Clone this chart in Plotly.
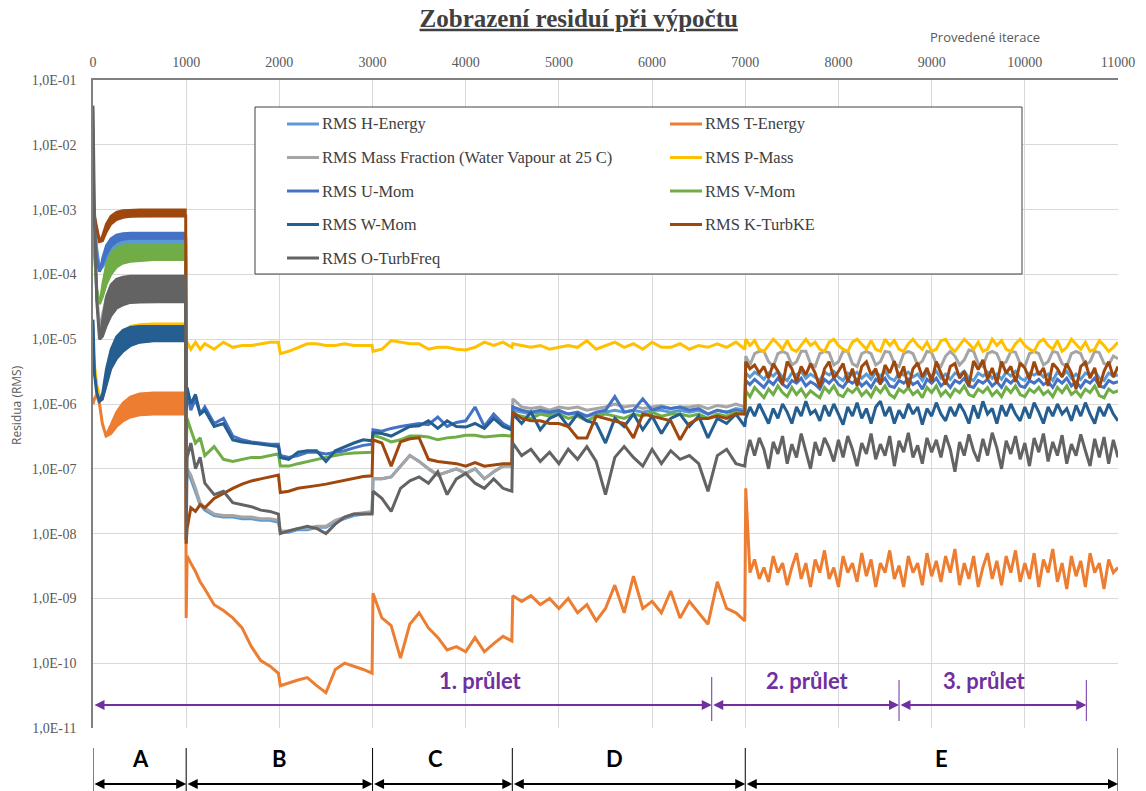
import plotly.graph_objects as go

# ---------------- categories / ticks ----------------
series_names = ["RMS H-Energy", "RMS T-Energy", "RMS Mass Fraction (Water Vapour at 25 C)", "RMS P-Mass",
                "RMS U-Mom", "RMS V-Mom", "RMS W-Mom", "RMS K-TurbKE", "RMS O-TurbFreq"]
series_colors = ["#5B9BD5", "#ED7D31", "#A5A5A5", "#FFC000", "#4472C4", "#70AD47", "#255E91", "#9E480E", "#636363"]

y_tick_vals = [1e-1, 1e-2, 1e-3, 1e-4, 1e-5, 1e-6, 1e-7, 1e-8, 1e-9, 1e-10, 1e-11]
y_tick_text = ["1,0E-01", "1,0E-02", "1,0E-03", "1,0E-04", "1,0E-05", "1,0E-06",
               "1,0E-07", "1,0E-08", "1,0E-09", "1,0E-10", "1,0E-11"]
x_tick_vals = [0, 1000, 2000, 3000, 4000, 5000, 6000, 7000, 8000, 9000, 10000, 11000]

section_bounds = [0, 1000, 3000, 4500, 7000, 11000]
section_labels = ["A", "B", "C", "D", "E"]
section_label_iter = [505, 2000, 3680, 5600, 9110]
pass_bounds = [0, 6640, 8650, 10660]
pass_labels = ["1. průlet", "2. průlet", "3. průlet"]
pass_label_iter = [4160, 7670, 9570]

# ---------------- iteration grids per phase ----------------
iter_a = [0, 15, 40, 70, 100, 140, 190, 250, 320, 400, 500, 650, 800, 995]
iter_b = [1000, 1010, 1050, 1100, 1150, 1200, 1300, 1400, 1500, 1600, 1700, 1800, 1900, 1990,
          2010, 2100, 2200, 2300, 2400, 2500, 2600, 2700, 2800, 2900, 2995]
iter_c = [3005, 3100, 3200, 3300, 3400, 3500, 3600, 3700, 3800, 3900, 4000, 4100, 4200, 4300, 4400, 4495]
iter_d = [4505, 4600, 4700, 4800, 4900, 5000, 5100, 5200, 5300, 5400, 5500, 5600, 5700, 5800, 5900,
          6000, 6100, 6200, 6300, 6400, 6500, 6600, 6700, 6800, 6900, 6995]
iter_e = [7005] + list(range(7050, 11001, 50))

# ---------------- RMS H-Energy ----------------
h_energy_a_lo = [2e-3, 8e-4, 2.5e-4, 1.2e-4, 1.3e-4, 1.6e-4, 2e-4, 2.4e-4, 2.6e-4, 2.7e-4, 2.8e-4, 2.8e-4, 2.8e-4, 2.8e-4]
h_energy_a_hi = [2e-3, 8e-4, 2.5e-4, 1.2e-4, 1.6e-4, 2.2e-4, 2.8e-4, 3.1e-4, 3.3e-4, 3.4e-4, 3.4e-4, 3.4e-4, 3.4e-4, 3.4e-4]
h_energy_b = [8e-8, 9e-8, 7e-8, 4.5e-8, 2.8e-8, 2.3e-8, 1.9e-8, 1.8e-8, 1.8e-8, 1.7e-8, 1.7e-8, 1.6e-8, 1.6e-8,
              1.5e-8, 1.05e-8, 1.05e-8, 1.15e-8, 1.15e-8, 1.25e-8, 1.25e-8, 1.5e-8, 1.7e-8, 1.9e-8, 2e-8, 2.1e-8]
h_energy_c = [7e-8, 7e-8, 7.5e-8, 1.1e-7, 1.6e-7, 1.3e-7, 1e-7, 8e-8, 9e-8, 1e-7, 8.5e-8, 1e-7, 7e-8, 9e-8,
              1.1e-7, 1.1e-7]
h_energy_d = [8e-7, 7.5e-7, 7e-7, 7.5e-7, 7e-7, 7.5e-7, 7e-7, 7e-7, 6.5e-7, 7e-7, 7.5e-7, 8e-7, 7.5e-7, 8e-7,
              7.5e-7, 8e-7, 8e-7, 7.5e-7, 8e-7, 7.5e-7, 8e-7, 7e-7, 8e-7, 7.5e-7, 8.5e-7, 8e-7]
h_energy_e = [3e-6, 2.6e-6, 3.1e-6, 2.8e-6, 2.4e-6, 3e-6, 2.7e-6, 3.2e-6, 2.6e-6, 2.3e-6,
              3e-6, 2.8e-6, 3.2e-6, 2.5e-6, 2.9e-6, 2.6e-6, 2.3e-6, 3.1e-6, 2.8e-6, 3.2e-6,
              2.6e-6, 2.3e-6, 3e-6, 2.8e-6, 3.1e-6, 2.5e-6, 2.9e-6, 2.4e-6, 3.1e-6, 2.7e-6,
              3.2e-6, 2.5e-6, 2.3e-6, 3e-6, 2.8e-6, 3.1e-6, 2.6e-6, 2.9e-6, 2.3e-6, 3.1e-6,
              2.7e-6, 3.2e-6, 2.5e-6, 2.9e-6, 2.4e-6, 3e-6, 2.8e-6, 3.2e-6, 2.5e-6, 2.3e-6,
              3e-6, 2.7e-6, 3.1e-6, 2.5e-6, 2.9e-6, 2.4e-6, 3.1e-6, 2.7e-6, 3.2e-6, 2.5e-6,
              2.3e-6, 3e-6, 2.8e-6, 3.1e-6, 2.6e-6, 2.9e-6, 2.3e-6, 3.1e-6, 2.7e-6, 3.2e-6,
              2.5e-6, 2.9e-6, 2.4e-6, 3e-6, 2.8e-6, 3.2e-6, 2.5e-6, 2.3e-6, 3e-6, 2.7e-6,
              2.8e-6]

# ---------------- RMS T-Energy ----------------
t_energy_a_lo = [1e-6, 1.2e-6, 1.4e-6, 1e-6, 5e-7, 3.2e-7, 3.5e-7, 4.5e-7, 5.5e-7, 6.3e-7, 6.8e-7, 7e-7, 7e-7, 7e-7]
t_energy_a_hi = [1e-6, 1.2e-6, 1.4e-6, 1e-6, 5e-7, 3.4e-7, 4.8e-7, 7.5e-7, 1.05e-6, 1.3e-6, 1.45e-6, 1.5e-6, 1.5e-6, 1.5e-6]
t_energy_b = [5e-10, 4.5e-9, 3.5e-9, 2.6e-9, 1.8e-9, 1.4e-9, 8e-10, 6.5e-10, 5e-10, 3.5e-10, 1.8e-10, 1.1e-10, 9e-11,
              7e-11, 4.5e-11, 5e-11, 5.5e-11, 6e-11, 4.5e-11, 3.5e-11, 8e-11, 1e-10, 9e-11, 8e-11, 7e-11]
t_energy_c = [1.2e-9, 5e-10, 3.8e-10, 1.2e-10, 4e-10, 6e-10, 3.5e-10, 2.5e-10, 1.6e-10, 1.8e-10, 1.5e-10, 2.5e-10,
              1.5e-10, 2e-10, 2.6e-10, 2.2e-10]
t_energy_d = [1.1e-9, 9e-10, 1.1e-9, 8e-10, 1e-9, 7e-10, 1e-9, 6e-10, 8e-10, 4.5e-10, 7e-10, 1.6e-9, 6e-10, 2.2e-9,
              7e-10, 9e-10, 6e-10, 1.3e-9, 5e-10, 9e-10, 6e-10, 4e-10, 1.8e-9, 7e-10, 6e-10, 4.5e-10]
t_energy_e = [5e-8, 2.5e-9, 4e-9, 2e-9, 3e-9, 1.8e-9, 4.5e-9, 2.5e-9, 3.5e-9, 1.6e-9,
              3e-9, 5e-9, 2e-9, 3.5e-9, 1.5e-9, 4e-9, 2.5e-9, 5.5e-9, 2e-9, 3e-9,
              1.5e-9, 4.5e-9, 2.5e-9, 3.5e-9, 1.8e-9, 5e-9, 2.2e-9, 4e-9, 1.5e-9, 3.5e-9,
              2.5e-9, 5.5e-9, 2e-9, 3.2e-9, 1.5e-9, 4.5e-9, 2.5e-9, 3.5e-9, 1.6e-9, 5e-9,
              2.2e-9, 3.8e-9, 1.8e-9, 4.5e-9, 2.5e-9, 5.8e-9, 1.6e-9, 3.5e-9, 2e-9, 4.5e-9,
              1.5e-9, 3e-9, 5e-9, 2e-9, 3.8e-9, 1.6e-9, 4.5e-9, 2.5e-9, 5.5e-9, 1.8e-9,
              3.5e-9, 2e-9, 5e-9, 1.5e-9, 4e-9, 2.5e-9, 5.8e-9, 1.8e-9, 3.5e-9, 1.4e-9,
              4.5e-9, 2.2e-9, 3.8e-9, 1.5e-9, 5e-9, 2.5e-9, 3.5e-9, 1.4e-9, 4e-9, 2.5e-9,
              3e-9]

# ---------------- RMS Mass Fraction ----------------
mass_frac_a_lo = [3e-3, 3e-4, 5e-5, 1.5e-5, 1.6e-5, 2.2e-5, 2.8e-5, 3.3e-5, 3.6e-5, 3.8e-5, 3.9e-5, 4e-5, 4e-5, 4e-5]
mass_frac_a_hi = [3e-3, 3e-4, 5e-5, 1.5e-5, 2.5e-5, 4.5e-5, 6.5e-5, 7.8e-5, 8.3e-5, 8.5e-5, 8.5e-5, 8.5e-5, 8.5e-5, 8.5e-5]
mass_frac_b = [5e-8, 1e-7, 8e-8, 5e-8, 3e-8, 2.5e-8, 2e-8, 1.9e-8, 1.9e-8, 1.8e-8, 1.8e-8, 1.7e-8, 1.7e-8, 1.6e-8,
               1.1e-8, 1.1e-8, 1.2e-8, 1.2e-8, 1.3e-8, 1.3e-8, 1.6e-8, 1.8e-8, 2e-8, 2.1e-8, 2.2e-8]
mass_frac_c = [7e-8, 7e-8, 7.5e-8, 1.1e-7, 1.6e-7, 1.3e-7, 1e-7, 8e-8, 9e-8, 1e-7, 8.5e-8, 1e-7, 7e-8, 9e-8,
               1.1e-7, 1.1e-7]
mass_frac_d = [1.2e-6, 9e-7, 8.5e-7, 9e-7, 8e-7, 9e-7, 8.5e-7, 9e-7, 8e-7, 8.5e-7, 9e-7, 1e-6, 9e-7, 9.5e-7,
               8.5e-7, 9e-7, 9.5e-7, 8.5e-7, 9e-7, 9e-7, 9.5e-7, 8.5e-7, 9.5e-7, 9e-7, 1e-6, 9e-7]
mass_frac_e = [5.5e-6, 4e-6, 6e-6, 6.5e-6, 6.5e-6, 4.5e-6, 3.8e-6, 6e-6, 6.5e-6, 6e-6,
               4e-6, 4.5e-6, 6.5e-6, 6.5e-6, 4.2e-6, 3.8e-6, 6e-6, 6.5e-6, 6.2e-6, 4e-6,
               4.5e-6, 6.5e-6, 6.5e-6, 4.2e-6, 3.8e-6, 6e-6, 6.5e-6, 6e-6, 4e-6, 4.5e-6,
               6.5e-6, 6.3e-6, 4.2e-6, 3.8e-6, 6e-6, 6.5e-6, 6e-6, 4e-6, 4.6e-6, 6.5e-6,
               6.2e-6, 4.2e-6, 3.8e-6, 5.5e-6, 6.5e-6, 5.5e-6, 4e-6, 4.8e-6, 6.8e-6, 6.5e-6,
               4.2e-6, 3.8e-6, 6e-6, 6.5e-6, 6e-6, 4e-6, 4.5e-6, 6.5e-6, 6.3e-6, 4.2e-6,
               3.8e-6, 6e-6, 6.5e-6, 6e-6, 4e-6, 4.5e-6, 6.5e-6, 6.2e-6, 4.2e-6, 3.8e-6,
               6e-6, 6.5e-6, 6e-6, 4e-6, 4.5e-6, 6.5e-6, 6.2e-6, 4.2e-6, 4e-6, 5.5e-6,
               5e-6]

# ---------------- RMS P-Mass ----------------
p_mass_a_lo = [8e-6, 4e-6, 2e-6, 1.3e-6, 1.2e-6, 2.5e-6, 5.5e-6, 9e-6, 1.2e-5, 1.45e-5, 1.55e-5, 1.6e-5, 1.6e-5, 1.6e-5]
p_mass_a_hi = [8e-6, 4e-6, 2e-6, 1.3e-6, 1.3e-6, 3e-6, 6.5e-6, 1e-5, 1.35e-5, 1.6e-5, 1.7e-5, 1.75e-5, 1.75e-5, 1.75e-5]
p_mass_b = [6e-6, 9e-6, 7e-6, 9e-6, 7e-6, 8.5e-6, 7e-6, 9e-6, 7.5e-6, 8e-6, 8e-6, 8.5e-6, 9e-6, 9e-6, 6e-6, 6.5e-6,
            7.5e-6, 8.5e-6, 8.5e-6, 8e-6, 8e-6, 8.5e-6, 8e-6, 8e-6, 8e-6]
p_mass_c = [6.5e-6, 7e-6, 9.5e-6, 9e-6, 8.5e-6, 8.5e-6, 7e-6, 7.5e-6, 7.5e-6, 7e-6, 6.8e-6, 7.5e-6, 9e-6, 8e-6,
            9e-6, 7.5e-6]
p_mass_d = [8.5e-6, 8e-6, 7.5e-6, 8e-6, 7e-6, 7.5e-6, 8e-6, 7.5e-6, 9.5e-6, 7e-6, 8e-6, 9e-6, 7.5e-6, 8.5e-6, 7e-6,
            9e-6, 7.5e-6, 7.5e-6, 8.5e-6, 7e-6, 8e-6, 7.5e-6, 8.5e-6, 7.5e-6, 9e-6, 7e-6]
p_mass_e = [1.0e-5, 8e-6, 9.5e-6, 7e-6, 6.5e-6, 8e-6, 1.0e-5, 8.5e-6, 7e-6, 9.5e-6,
            7e-6, 6.5e-6, 8e-6, 1.0e-5, 8e-6, 9e-6, 7e-6, 6.5e-6, 9e-6, 1.0e-5,
            8e-6, 7e-6, 6.5e-6, 9e-6, 1.0e-5, 8.5e-6, 7e-6, 9.5e-6, 7e-6, 6.5e-6,
            1.0e-5, 8e-6, 9.5e-6, 7e-6, 6.5e-6, 8.5e-6, 1.0e-5, 8e-6, 7e-6, 9e-6,
            6.5e-6, 7e-6, 9.5e-6, 1.0e-5, 7.5e-6, 6.5e-6, 8e-6, 1.0e-5, 8.5e-6, 7e-6,
            9e-6, 6.5e-6, 7e-6, 1.0e-5, 8e-6, 9.5e-6, 7e-6, 6.5e-6, 8.5e-6, 1.0e-5,
            8e-6, 7e-6, 6.5e-6, 9e-6, 1.0e-5, 8e-6, 7e-6, 9.5e-6, 6.5e-6, 7.5e-6,
            1.0e-5, 8.5e-6, 7e-6, 9e-6, 6.5e-6, 7e-6, 9.5e-6, 8e-6, 6.5e-6, 7.5e-6,
            9e-6]

# ---------------- RMS U-Mom ----------------
u_mom_a_lo = [8e-4, 4e-4, 1.8e-4, 1.1e-4, 1.4e-4, 2e-4, 2.7e-4, 3.2e-4, 3.5e-4, 3.6e-4, 3.6e-4, 3.6e-4, 3.6e-4, 3.6e-4]
u_mom_a_hi = [8e-4, 4e-4, 1.8e-4, 1.1e-4, 1.8e-4, 2.8e-4, 3.6e-4, 4.1e-4, 4.3e-4, 4.4e-4, 4.4e-4, 4.4e-4, 4.4e-4, 4.4e-4]
u_mom_b = [8e-7, 1.5e-6, 8e-7, 1.2e-6, 7e-7, 9e-7, 5e-7, 6e-7, 3.2e-7, 2.8e-7, 2.6e-7, 2.5e-7, 2.4e-7, 2.4e-7,
           1.6e-7, 1.5e-7, 1.6e-7, 1.8e-7, 1.8e-7, 1.7e-7, 1.8e-7, 1.9e-7, 2.1e-7, 2.3e-7, 2.4e-7]
u_mom_c = [4e-7, 3.8e-7, 4.2e-7, 4.5e-7, 4.8e-7, 5e-7, 4.8e-7, 6.3e-7, 4.5e-7, 5.2e-7, 5.5e-7, 9e-7, 4.5e-7, 7e-7,
           5e-7, 4.2e-7]
u_mom_d = [9e-7, 8e-7, 7.5e-7, 8e-7, 7.5e-7, 8e-7, 7e-7, 7.5e-7, 6.5e-7, 7.5e-7, 8e-7, 1.3e-6, 7.5e-7, 8e-7,
           1.2e-6, 8e-7, 9e-7, 8.5e-7, 9e-7, 8e-7, 8.5e-7, 7e-7, 8e-7, 7.5e-7, 8e-7, 7.5e-7]
u_mom_e = [2.3e-6, 2e-6, 2.4e-6, 2.1e-6, 1.8e-6, 2.3e-6, 2e-6, 2.5e-6, 2e-6, 1.8e-6,
           2.3e-6, 2.1e-6, 2.5e-6, 1.9e-6, 2.2e-6, 2e-6, 1.7e-6, 2.4e-6, 2.1e-6, 2.5e-6,
           2e-6, 1.8e-6, 2.3e-6, 2.1e-6, 2.4e-6, 1.9e-6, 2.2e-6, 1.8e-6, 2.4e-6, 2.1e-6,
           2.5e-6, 1.9e-6, 1.8e-6, 2.3e-6, 2.1e-6, 2.4e-6, 2e-6, 2.2e-6, 1.7e-6, 2.4e-6,
           2.1e-6, 2.5e-6, 1.9e-6, 2.2e-6, 1.8e-6, 2.3e-6, 2.1e-6, 2.5e-6, 1.9e-6, 1.8e-6,
           2.3e-6, 2.1e-6, 2.4e-6, 1.9e-6, 2.2e-6, 1.8e-6, 2.4e-6, 2.1e-6, 2.5e-6, 1.9e-6,
           1.8e-6, 2.3e-6, 2.1e-6, 2.4e-6, 2e-6, 2.2e-6, 1.8e-6, 2.4e-6, 2.1e-6, 2.5e-6,
           1.9e-6, 2.2e-6, 1.8e-6, 2.3e-6, 2.1e-6, 2.5e-6, 1.9e-6, 1.8e-6, 2.3e-6, 2.1e-6,
           2.2e-6]

# ---------------- RMS V-Mom ----------------
v_mom_a_lo = [5e-4, 2e-4, 6e-5, 3.5e-5, 4.5e-5, 7e-5, 1e-4, 1.3e-4, 1.5e-4, 1.6e-4, 1.65e-4, 1.7e-4, 1.7e-4, 1.7e-4]
v_mom_a_hi = [5e-4, 2e-4, 6e-5, 3.5e-5, 7e-5, 1.4e-4, 2.1e-4, 2.6e-4, 2.8e-4, 2.9e-4, 2.9e-4, 2.9e-4, 2.9e-4, 2.9e-4]
v_mom_b = [2e-7, 6e-7, 4e-7, 2.5e-7, 3e-7, 1.6e-7, 2.2e-7, 1.4e-7, 1.3e-7, 1.4e-7, 1.5e-7, 1.5e-7, 1.6e-7, 1.7e-7,
           1.1e-7, 1.1e-7, 1.2e-7, 1.3e-7, 1.4e-7, 1.5e-7, 1.6e-7, 1.7e-7, 1.75e-7, 1.8e-7, 1.8e-7]
v_mom_c = [3.3e-7, 3e-7, 2.6e-7, 2.8e-7, 3.2e-7, 3.2e-7, 3.1e-7, 2.8e-7, 3e-7, 3.1e-7, 3.3e-7, 3.3e-7, 3.1e-7,
           3.2e-7, 3.3e-7, 3.2e-7]
v_mom_d = [7e-7, 6.5e-7, 6e-7, 7e-7, 6.5e-7, 7e-7, 6e-7, 6.5e-7, 5.5e-7, 6.5e-7, 7e-7, 6.5e-7, 6e-7, 7e-7, 6.5e-7,
           7.5e-7, 6.5e-7, 7e-7, 7e-7, 6.5e-7, 7e-7, 6e-7, 7e-7, 6.5e-7, 7.5e-7, 7e-7]
v_mom_e = [1.6e-6, 1.3e-6, 1.8e-6, 1.5e-6, 1.25e-6, 1.7e-6, 1.4e-6, 1.9e-6, 1.5e-6, 1.3e-6,
           1.8e-6, 1.4e-6, 1.7e-6, 1.3e-6, 1.6e-6, 1.4e-6, 1.25e-6, 1.8e-6, 1.5e-6, 1.9e-6,
           1.4e-6, 1.3e-6, 1.7e-6, 1.5e-6, 1.8e-6, 1.35e-6, 1.6e-6, 1.3e-6, 1.8e-6, 1.5e-6,
           1.9e-6, 1.4e-6, 1.25e-6, 1.7e-6, 1.5e-6, 1.8e-6, 1.4e-6, 1.6e-6, 1.25e-6, 1.8e-6,
           1.5e-6, 1.9e-6, 1.35e-6, 1.6e-6, 1.3e-6, 1.7e-6, 1.5e-6, 1.9e-6, 1.4e-6, 1.3e-6,
           1.7e-6, 1.5e-6, 1.8e-6, 1.35e-6, 1.6e-6, 1.3e-6, 1.8e-6, 1.5e-6, 1.9e-6, 1.4e-6,
           1.3e-6, 1.7e-6, 1.5e-6, 1.8e-6, 1.4e-6, 1.6e-6, 1.3e-6, 1.8e-6, 1.5e-6, 1.9e-6,
           1.4e-6, 1.6e-6, 1.3e-6, 1.7e-6, 1.5e-6, 1.9e-6, 1.35e-6, 1.25e-6, 1.7e-6, 1.5e-6,
           1.6e-6]

# ---------------- RMS W-Mom ----------------
w_mom_a_lo = [2e-5, 3e-6, 1.5e-6, 1.1e-6, 1.2e-6, 2e-6, 3.5e-6, 5e-6, 6.5e-6, 8e-6, 9e-6, 9.5e-6, 9.5e-6, 9.5e-6]
w_mom_a_hi = [2e-5, 3e-6, 1.5e-6, 1.1e-6, 1.5e-6, 3.5e-6, 7e-6, 1.1e-5, 1.4e-5, 1.55e-5, 1.6e-5, 1.6e-5, 1.6e-5, 1.6e-5]
w_mom_b = [8e-7, 1.8e-6, 1e-6, 1.4e-6, 7e-7, 8e-7, 4.5e-7, 5e-7, 2.8e-7, 2.6e-7, 2.5e-7, 2.4e-7, 2.3e-7, 2.2e-7,
           1.5e-7, 1.4e-7, 1.8e-7, 1.9e-7, 1.9e-7, 1.3e-7, 1.9e-7, 2.2e-7, 2.5e-7, 2.8e-7, 2.7e-7]
w_mom_c = [3.6e-7, 3.5e-7, 3.2e-7, 3.8e-7, 4.5e-7, 4.6e-7, 5.5e-7, 4.2e-7, 5.5e-7, 4.5e-7, 4.4e-7, 5e-7, 4.2e-7,
           6e-7, 4.5e-7, 4e-7]
w_mom_d = [7e-7, 5e-7, 7.5e-7, 4e-7, 6e-7, 7e-7, 4.5e-7, 7e-7, 5.5e-7, 5e-7, 2.5e-7, 6e-7, 4.5e-7, 7e-7, 4e-7,
           6.5e-7, 3.5e-7, 6e-7, 7e-7, 4.5e-7, 6.5e-7, 3e-7, 6e-7, 5e-7, 7e-7, 4.5e-7]
w_mom_e = [6e-7, 9e-7, 6.5e-7, 1e-6, 7e-7, 5e-7, 8.5e-7, 6e-7, 1e-6, 7.5e-7,
           5e-7, 9e-7, 6.5e-7, 1.1e-6, 7e-7, 8e-7, 5.5e-7, 9.5e-7, 6.5e-7, 1e-6,
           7e-7, 4.8e-7, 9e-7, 6.5e-7, 1.05e-6, 6e-7, 8.5e-7, 5e-7, 9e-7, 1.1e-6,
           6.5e-7, 9e-7, 5e-7, 8e-7, 6e-7, 1e-6, 7e-7, 9e-7, 4.8e-7, 8.5e-7,
           6.5e-7, 1.05e-6, 7e-7, 5.5e-7, 9e-7, 6.5e-7, 1e-6, 7.5e-7, 5e-7, 9.5e-7,
           6e-7, 1.1e-6, 7e-7, 8.5e-7, 5e-7, 9.5e-7, 6.5e-7, 1e-6, 7e-7, 5.5e-7,
           9e-7, 6e-7, 1.05e-6, 7.5e-7, 5e-7, 9e-7, 6.5e-7, 1e-6, 7e-7, 8.5e-7,
           5.5e-7, 9.5e-7, 6.5e-7, 1.05e-6, 7e-7, 5e-7, 9e-7, 6.5e-7, 1e-6, 7e-7,
           5.5e-7]

# ---------------- RMS K-TurbKE ----------------
k_turb_a_lo = [1e-3, 8e-4, 5e-4, 3.2e-4, 3.3e-4, 4.5e-4, 6e-4, 7e-4, 7.6e-4, 7.9e-4, 8e-4, 8e-4, 8e-4, 8e-4]
k_turb_a_hi = [1e-3, 8e-4, 5e-4, 3.2e-4, 4e-4, 6e-4, 8e-4, 9.2e-4, 9.8e-4, 1e-3, 1e-3, 1e-3, 1e-3, 1e-3]
k_turb_b = [7e-9, 1.2e-8, 2.5e-8, 2.2e-8, 2.8e-8, 2.5e-8, 3.5e-8, 4.2e-8, 5e-8, 5.8e-8, 6.5e-8, 7e-8, 7.5e-8, 8e-8,
            4.3e-8, 4.5e-8, 5e-8, 5.2e-8, 5.5e-8, 5.8e-8, 6.2e-8, 6.8e-8, 7.2e-8, 7.6e-8, 7.8e-8]
k_turb_c = [2.8e-7, 2.5e-7, 1.1e-7, 2.6e-7, 2.9e-7, 3e-7, 1.4e-7, 1.3e-7, 1.25e-7, 1.2e-7, 1.1e-7, 1.25e-7, 1.1e-7,
            1.15e-7, 1.2e-7, 1.2e-7]
k_turb_d = [7.5e-7, 6e-7, 5.5e-7, 5.5e-7, 5e-7, 5e-7, 4.5e-7, 3e-7, 3e-7, 6.5e-7, 6e-7, 5.5e-7, 5e-7, 3e-7, 7e-7,
            6.5e-7, 6e-7, 5.5e-7, 2.8e-7, 5e-7, 6e-7, 6e-7, 6.5e-7, 6e-7, 7e-7, 7e-7]
k_turb_e = [4.5e-6, 3.5e-6, 4e-6, 3e-6, 3.8e-6, 2.5e-6, 4.2e-6, 3.2e-6, 2e-6, 4.5e-6,
            3.5e-6, 2.2e-6, 3.8e-6, 2.8e-6, 4.2e-6, 3e-6, 1.8e-6, 3.5e-6, 4.5e-6, 2.5e-6,
            3.2e-6, 4.2e-6, 2.2e-6, 3.5e-6, 1.9e-6, 3.8e-6, 4.5e-6, 2.8e-6, 3.5e-6, 2e-6,
            4e-6, 3e-6, 4.6e-6, 2.5e-6, 3.8e-6, 1.8e-6, 3.5e-6, 4.3e-6, 2.6e-6, 3.6e-6,
            2.2e-6, 4.5e-6, 3e-6, 2e-6, 3.8e-6, 4.2e-6, 2.5e-6, 3.2e-6, 1.9e-6, 4.6e-6,
            3.4e-6, 4.8e-6, 2.4e-6, 3.6e-6, 2.1e-6, 4.5e-6, 3e-6, 3.8e-6, 2.2e-6, 4.3e-6,
            3.6e-6, 2.4e-6, 4.5e-6, 2.8e-6, 3.6e-6, 1.9e-6, 4.2e-6, 3.5e-6, 2.6e-6, 4.2e-6,
            3e-6, 1.7e-6, 3.8e-6, 4.4e-6, 2.5e-6, 3.6e-6, 1.8e-6, 3.2e-6, 4.5e-6, 2.6e-6,
            3.8e-6]

# ---------------- RMS O-TurbFreq ----------------
o_turb_a_lo = [4e-2, 1e-3, 4e-5, 1e-5, 1.1e-5, 1.6e-5, 2.3e-5, 3e-5, 3.4e-5, 3.7e-5, 3.8e-5, 3.8e-5, 3.8e-5, 3.8e-5]
o_turb_a_hi = [4e-2, 1e-3, 4e-5, 1e-5, 2e-5, 4.5e-5, 7e-5, 8.5e-5, 9.2e-5, 9.5e-5, 9.5e-5, 9.5e-5, 9.5e-5, 9.5e-5]
o_turb_b = [8e-9, 1.5e-7, 2.5e-7, 1e-7, 1.5e-7, 6e-8, 4e-8, 4.5e-8, 3e-8, 2.8e-8, 2.6e-8, 2.3e-8, 2.2e-8, 2e-8,
            1e-8, 1.1e-8, 1.2e-8, 1.3e-8, 1.2e-8, 1e-8, 1.4e-8, 1.8e-8, 2e-8, 2e-8, 2e-8]
o_turb_c = [4.5e-8, 3.5e-8, 2.2e-8, 5e-8, 6.5e-8, 7.5e-8, 6e-8, 9e-8, 4e-8, 7e-8, 8.5e-8, 6e-8, 5e-8, 7e-8,
            5e-8, 4.5e-8]
o_turb_d = [2.5e-7, 1.6e-7, 2e-7, 1.3e-7, 1.8e-7, 1.2e-7, 2e-7, 1.4e-7, 2.2e-7, 1.3e-7, 4e-8, 1.5e-7, 2.2e-7,
            1.5e-7, 1.1e-7, 2e-7, 1.2e-7, 1.9e-7, 1.4e-7, 1.6e-7, 1.2e-7, 4.5e-8, 1.6e-7, 2e-7, 1.2e-7, 1.1e-7]
o_turb_e = [1.5e-7, 2.8e-7, 1.6e-7, 3e-7, 2e-7, 1e-7, 2.6e-7, 1.7e-7, 3.2e-7, 1.2e-7,
            2.4e-7, 1.5e-7, 3.5e-7, 1.9e-7, 1e-7, 2.6e-7, 1.6e-7, 3e-7, 2.1e-7, 1.3e-7,
            2.8e-7, 1.5e-7, 3.2e-7, 2e-7, 1.1e-7, 2.5e-7, 1.7e-7, 3.5e-7, 1.4e-7, 2.4e-7,
            1.6e-7, 3.2e-7, 1.1e-7, 2.7e-7, 1.8e-7, 3.6e-7, 1.5e-7, 2.3e-7, 1.2e-7, 3e-7,
            1.8e-7, 2.8e-7, 1.5e-7, 3.3e-7, 2e-7, 9e-8, 2.6e-7, 1.6e-7, 3.4e-7, 1.9e-7,
            1.3e-7, 2.9e-7, 1.6e-7, 3.6e-7, 2.1e-7, 1e-7, 2.7e-7, 1.7e-7, 3.2e-7, 1.4e-7,
            2.5e-7, 1.1e-7, 3e-7, 1.8e-7, 3.5e-7, 1.3e-7, 2.6e-7, 1.6e-7, 3.3e-7, 1.2e-7,
            2.4e-7, 1.6e-7, 3.4e-7, 1.9e-7, 1.1e-7, 2.9e-7, 1.5e-7, 3.1e-7, 1.2e-7, 2.8e-7,
            1.5e-7]

series_a_lo = [h_energy_a_lo, t_energy_a_lo, mass_frac_a_lo, p_mass_a_lo, u_mom_a_lo, v_mom_a_lo, w_mom_a_lo, k_turb_a_lo, o_turb_a_lo]
series_a_hi = [h_energy_a_hi, t_energy_a_hi, mass_frac_a_hi, p_mass_a_hi, u_mom_a_hi, v_mom_a_hi, w_mom_a_hi, k_turb_a_hi, o_turb_a_hi]
series_b = [h_energy_b, t_energy_b, mass_frac_b, p_mass_b, u_mom_b, v_mom_b, w_mom_b, k_turb_b, o_turb_b]
series_c = [h_energy_c, t_energy_c, mass_frac_c, p_mass_c, u_mom_c, v_mom_c, w_mom_c, k_turb_c, o_turb_c]
series_d = [h_energy_d, t_energy_d, mass_frac_d, p_mass_d, u_mom_d, v_mom_d, w_mom_d, k_turb_d, o_turb_d]
series_e = [h_energy_e, t_energy_e, mass_frac_e, p_mass_e, u_mom_e, v_mom_e, w_mom_e, k_turb_e, o_turb_e]

# ---------------- figure ----------------
W, H = 1146, 791
ML, MR, MT, MB = 93, 28, 80, 63
PW, PH = W - ML - MR, H - MT - MB


def px_x(px):
    return (px - ML) / PW


def px_y(py):
    return (H - MB - py) / PH


fig = go.Figure()

for i, name in enumerate(series_names):
    col = series_colors[i]
    lo, hi = series_a_lo[i], series_a_hi[i]
    # oscillating band of the first phase (envelope)
    band_x = list(iter_a) + list(reversed(iter_a))
    band_y = list(hi) + list(reversed(lo))
    fig.add_trace(go.Scatter(x=band_x, y=band_y, mode="lines", fill="toself", fillcolor=col,
                             line=dict(color=col, width=2), showlegend=False, hoverinfo="skip"))
    xs, ys = [], []
    for it, vals in ((iter_a, lo), (iter_b, series_b[i]), (iter_c, series_c[i]),
                     (iter_d, series_d[i]), (iter_e, series_e[i])):
        for a, b in zip(it, vals):
            xs.append(a)
            ys.append(b)
    fig.add_trace(go.Scatter(x=xs, y=ys, mode="lines", name=name,
                             line=dict(color=col, width=3), showlegend=False))

serif = "Liberation Serif, Times New Roman, serif"
sans = "Lato, Liberation Sans, sans-serif"

fig.update_layout(
    width=W, height=H,
    margin=dict(l=ML, r=MR, t=MT, b=MB),
    paper_bgcolor="white", plot_bgcolor="white",
    title=dict(text="<b><u>Zobrazení residuí při výpočtu</u></b>", x=0.505, xanchor="center",
               y=1 - 18 / H, yanchor="middle",
               font=dict(family=serif, size=25, color="#404040")),
    showlegend=False,
)
fig.update_xaxes(range=[0, 11000], side="top", tickvals=x_tick_vals,
                 ticktext=[str(v) for v in x_tick_vals],
                 showgrid=True, gridcolor="#D9D9D9", gridwidth=1,
                 showline=True, linecolor="#808080", linewidth=1.5, zeroline=False,
                 ticks="", ticklabelstandoff=6,
                 tickfont=dict(family=serif, size=14, color="#595959"))
fig.update_yaxes(type="log", range=[-11, -1], tickvals=y_tick_vals, ticktext=y_tick_text,
                 showgrid=True, gridcolor="#D9D9D9", gridwidth=1,
                 showline=True, linecolor="#808080", linewidth=1.5, zeroline=False,
                 ticks="", ticklabelstandoff=12,
                 tickfont=dict(family=serif, size=14, color="#595959"))

# axis titles
fig.add_annotation(text="Provedené iterace", xref="paper", yref="paper", x=px_x(985), y=px_y(37),
                   xanchor="center", yanchor="middle", showarrow=False,
                   font=dict(family="Open Sans, sans-serif", size=13, color="#595959"))
fig.add_annotation(text="Residua (RMS)", xref="paper", yref="paper", x=px_x(16), y=px_y(405),
                   xanchor="center", yanchor="middle", textangle=-90, showarrow=False,
                   font=dict(family="Open Sans, sans-serif", size=12, color="#595959"))

# legend box (manual, two columns)
fig.add_shape(type="rect", xref="paper", yref="paper", x0=px_x(255), x1=px_x(1022), y0=px_y(274), y1=px_y(107),
              line=dict(color="#404040", width=1), fillcolor="white", layer="above")
for i, name in enumerate(series_names):
    row, colnum = i // 2, i % 2
    yy = px_y(124 + row * 33.5)
    lx0 = 287 if colnum == 0 else 670
    fig.add_shape(type="line", xref="paper", yref="paper", x0=px_x(lx0), x1=px_x(lx0 + 32), y0=yy, y1=yy,
                  line=dict(color=series_colors[i], width=3), layer="above")
    fig.add_annotation(text=name, xref="paper", yref="paper", x=px_x(lx0 + 33), y=yy, xanchor="left",
                       yanchor="middle", showarrow=False,
                       font=dict(family=serif, size=16.5, color="#404040"))

# passes (purple)
purple = "#7030A0"
y_pass = px_y(705)
for k in range(len(pass_labels)):
    x0, x1 = pass_bounds[k], pass_bounds[k + 1]
    fig.add_annotation(x=x1, y=y_pass, xref="x", yref="paper", ax=x0, ay=0, axref="x", ayref="pixel",
                       text="", showarrow=True, arrowhead=2, startarrowhead=2, arrowside="end+start",
                       arrowsize=1, arrowwidth=2, arrowcolor=purple, standoff=0, startstandoff=0)
    fig.add_annotation(text=pass_labels[k], x=pass_label_iter[k], y=px_y(680), xref="x", yref="paper",
                       xanchor="center", yanchor="middle", showarrow=False,
                       font=dict(family=sans, size=22, color=purple, weight="bold"))
for k, xb in enumerate(pass_bounds[1:]):
    top = 677 if k == 0 else 680
    fig.add_shape(type="line", xref="x", yref="paper", x0=xb, x1=xb, y0=px_y(721), y1=px_y(top),
                  line=dict(color=purple, width=1))

# sections (black, below the plot)
y_sec = px_y(784)
for k in range(len(section_labels)):
    x0, x1 = section_bounds[k], section_bounds[k + 1]
    fig.add_annotation(x=x1, y=y_sec, xref="x", yref="paper", ax=x0, ay=0, axref="x", ayref="pixel",
                       text="", showarrow=True, arrowhead=2, startarrowhead=2, arrowside="end+start",
                       arrowsize=1, arrowwidth=2, arrowcolor="black", standoff=0, startstandoff=0)
    fig.add_annotation(text=section_labels[k], x=section_label_iter[k], y=px_y(758), xref="x", yref="paper",
                       xanchor="center", yanchor="middle", showarrow=False,
                       font=dict(family=sans, size=22, color="black", weight="bold"))
for xb in section_bounds:
    fig.add_shape(type="line", xref="x", yref="paper", x0=xb, x1=xb, y0=px_y(791), y1=px_y(748),
                  line=dict(color="black", width=1))

fig.write_html("out.html")
